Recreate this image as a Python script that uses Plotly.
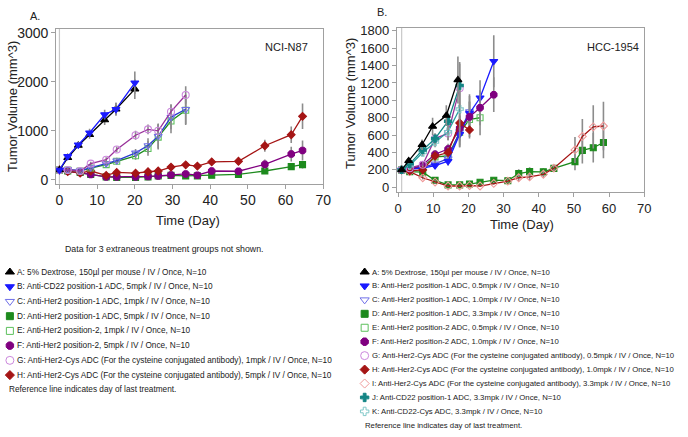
import plotly.graph_objects as go

W, H = 688, 437

# ---------------- Panel A: NCI-N87 ----------------
days_A_L = [0, 2.2, 5, 8, 12, 15, 20]
A_L = [200, 450, 700, 920, 1220, 1440, 1850]
A_L_err = [20, 40, 60, 80, 100, 130, 200]
B_L = [200, 480, 715, 960, 1330, 1440, 1980]
B_L_err = [20, 40, 60, 80, 100, 130, 230]

days_L = [0, 2.2, 5.5, 8.3, 12.4, 15.2, 20.2, 23.5, 26.2, 29.6, 33.5, 36.6, 40.4, 47.5, 54.5, 61.5, 64.5]
C_L = [200, 210, 190, 250, 330, 390, 550, 700, 890, 1280, 1440]
C_L_err = [20, 25, 25, 40, 50, 60, 80, 150, 250, 250, 300]
E_L = [200, 200, 180, 240, 310, 380, 490, 640, 870, 1200, 1420]
E_L_err = [20, 25, 25, 40, 50, 60, 80, 150, 250, 250, 300]
G_L = [200, 200, 180, 330, 410, 620, 910, 1030, 1000, 1390, 1730]
G_L_err = [20, 20, 25, 40, 50, 60, 90, 100, 150, 150, 180]
D_L = [200, 180, 150, 110, 60, 50, 50, 60, 80, 90, 80, 80, 95, 110, 180, 270, 310]
D_L_err = [20, 20, 20, 20, 15, 15, 15, 15, 15, 20, 20, 20, 25, 30, 50, 60, 80]
F_L = [200, 180, 150, 110, 60, 60, 60, 70, 80, 100, 120, 95, 180, 175, 315, 525, 600]
F_L_err = [20, 20, 20, 20, 15, 15, 15, 20, 20, 25, 30, 30, 40, 50, 100, 150, 200]
H_L = [200, 170, 140, 180, 90, 150, 135, 165, 180, 260, 305, 280, 365, 378, 695, 920, 1295]
H_L_err = [20, 20, 25, 30, 25, 30, 30, 35, 40, 50, 60, 60, 70, 70, 120, 170, 260]

# ---------------- Panel B: HCC-1954 ----------------
days_A_R = [1, 3, 6.8, 9.8, 13.7, 17]
A_R = [200, 305, 490, 700, 825, 1235]
A_R_err = [15, 30, 60, 100, 120, 270]
days_R = [1, 3.3, 7, 10.5, 14.2, 17.5, 20.3, 23.3, 27.2, 31.2, 34.3, 37.4, 41.3, 44.3, 50.3, 52.4, 55.5, 58.4]
B_R = [200, 210, 220, 250, 300, 610, 850, 1030, 1450]
B_R_err = [15, 20, 30, 40, 50, 150, 200, 200, 300]
C_R = [200, 210, 230, 270, 330, 640, 870]
C_R_err = [15, 20, 30, 40, 60, 180, 200]
D_R = [200, 180, 175, 80, 28, 28, 38, 58, 82, 76, 158, 180, 178, 218, 295, 425, 455, 515]
D_R_err = [15, 15, 20, 20, 10, 10, 15, 15, 20, 20, 50, 50, 40, 40, 100, 150, 170, 180]
E_R = [200, 210, 240, 350, 360, 630, 780, 800]
E_R_err = [15, 20, 30, 50, 60, 150, 200, 200]
F_R = [200, 200, 260, 380, 440, 680, 810, 915, 1065]
F_R_err = [15, 20, 30, 50, 60, 150, 180, 200, 200]
G_R = [200, 220, 260, 560, 620, 1140]
G_R_err = [15, 20, 30, 60, 80, 300]
H_R = [200, 190, 200, 360, 400, 740, 660]
H_R_err = [15, 20, 30, 50, 60, 150, 100]
I_R = [200, 180, 110, 60, 15, 15, 20, 15, 45, 72, 110, 120, 150, 220, 430, 585, 695, 705]
I_R_err = [15, 15, 20, 20, 10, 10, 10, 10, 15, 20, 40, 40, 40, 40, 150, 200, 250, 280]
J_R = [200, 270, 430, 560, 760, 1170]
J_R_err = [15, 25, 40, 60, 100, 250]
K_R = [200, 250, 400, 520, 640, 900]
K_R_err = [15, 25, 40, 60, 100, 250]

ref_day_L = 0
ref_day_R = 1

x_ticks = [0, 10, 20, 30, 40, 50, 60, 70]
y_ticks_L = [0, 1000, 2000, 3000]
y_ticks_R = [0, 200, 400, 600, 800, 1000, 1200, 1400, 1600, 1800]

legend_L = [
    "A: 5% Dextrose, 150µl per mouse / IV / Once, N=10",
    "B: Anti-CD22 position-1 ADC, 5mpk / IV / Once, N=10",
    "C: Anti-Her2 position-1 ADC, 1mpk / IV / Once, N=10",
    "D: Anti-Her2 position-1 ADC, 5mpk / IV / Once, N=10",
    "E: Anti-Her2 position-2, 1mpk / IV / Once, N=10",
    "F: Anti-Her2 position-2, 5mpk / IV / Once, N=10",
    "G: Anti-Her2-Cys ADC (For the cysteine conjugated antibody), 1mpk / IV / Once, N=10",
    "H: Anti-Her2-Cys ADC (For the cysteine conjugated antibody), 5mpk / IV / Once, N=10",
]
legend_R = [
    "A: 5% Dextrose, 150µl per mouse / IV / Once, N=10",
    "B: Anti-Her2 position-1 ADC, 0.5mpk / IV / Once, N=10",
    "C: Anti-Her2 position-1 ADC, 1.0mpk / IV / Once, N=10",
    "D: Anti-Her2 position-1 ADC, 3.3mpk / IV / Once, N=10",
    "E: Anti-Her2 position-2 ADC, 0.5mpk / IV / Once, N=10",
    "F: Anti-Her2 position-2 ADC, 1.0mpk / IV / Once, N=10",
    "G: Anti-Her2-Cys ADC (For the cysteine conjugated antibody), 0.5mpk / IV / Once, N=10",
    "H: Anti-Her2-Cys ADC (For the cysteine conjugated antibody), 1.0mpk / IV / Once, N=10",
    "I: Anti-Her2-Cys ADC (For the cysteine conjugated antibody), 3.3mpk / IV / Once, N=10",
    "J: Anti-CD22 position-1 ADC, 3.3mpk / IV / Once, N=10",
    "K: Anti-CD22-Cys ADC, 3.3mpk / IV / Once, N=10",
]

# styles: (line colour, marker symbol, marker colour, size)
STY = {
    "A": ("#000000", "triangle-up", "#000000", 7),
    "B": ("#1a1aff", "triangle-down", "#1a1aff", 7),
    "C": ("#2c3ccf", "triangle-down-open", "#6f6fe8", 7),
    "D": ("#1d8a1d", "square", "#1d8a1d", 6),
    "E": ("#1d8a1d", "square-open", "#5cc05c", 6),
    "F": ("#800080", "octagon", "#800080", 7),
    "G": ("#993399", "circle-open", "#cc88dd", 7),
    "H": ("#a51515", "diamond", "#a51515", 6),
    "I": ("#a51515", "diamond-open", "#f09a9a", 6),
    "J": ("#148585", "cross", "#148585", 6),
    "K": ("#2aa0a0", "cross-open", "#80c8c8", 6),
}

fig = go.Figure()


def add(key, xs, ys, err, xa, ya):
    lc, sym, mc, sz = STY[key]
    n = len(ys)
    fig.add_trace(go.Scatter(
        x=xs[:n], y=ys, xaxis=xa, yaxis=ya, mode="lines+markers",
        line=dict(color=lc, width=1.3),
        marker=dict(symbol=sym, size=sz, color=mc, line=dict(color=mc, width=1.1)),
        error_y=dict(type="data", array=err, color="#8c8c8c", thickness=1.6, width=0),
        showlegend=False, hoverinfo="skip"))


# left panel
add("D", days_L, D_L, D_L_err, "x", "y")
add("F", days_L, F_L, F_L_err, "x", "y")
add("H", days_L, H_L, H_L_err, "x", "y")
add("E", days_L, E_L, E_L_err, "x", "y")
add("C", days_L, C_L, C_L_err, "x", "y")
add("G", days_L, G_L, G_L_err, "x", "y")
add("A", days_A_L, A_L, A_L_err, "x", "y")
add("B", days_A_L, B_L, B_L_err, "x", "y")
# right panel
add("D", days_R, D_R, D_R_err, "x2", "y2")
add("I", days_R, I_R, I_R_err, "x2", "y2")
add("E", days_R, E_R, E_R_err, "x2", "y2")
add("C", days_R, C_R, C_R_err, "x2", "y2")
add("B", days_R, B_R, B_R_err, "x2", "y2")
add("F", days_R, F_R, F_R_err, "x2", "y2")
add("H", days_R, H_R, H_R_err, "x2", "y2")
add("G", days_R, G_R, G_R_err, "x2", "y2")
add("K", days_R, K_R, K_R_err, "x2", "y2")
add("J", days_R, J_R, J_R_err, "x2", "y2")
add("A", days_A_R, A_R, A_R_err, "x2", "y2")

annotations = []


def px(x):
    return x / W


def py(y):
    return 1 - y / H


def legend_block(labels, x_mark, x_text, y0, dy, note_x, fsize):
    font = dict(family="Liberation Sans, Arial", size=fsize, color="#1a1a1a")
    keys = [lab[0] for lab in labels]
    ys = [y0 + i * dy for i in range(len(labels))]
    for k, yy in zip(keys, ys):
        lc, sym, mc, sz = STY[k]
        fig.add_trace(go.Scatter(
            x=[x_mark], y=[yy], xaxis="x3", yaxis="y3", mode="markers",
            marker=dict(symbol=sym, size=sz + 1, color=mc, line=dict(color=mc, width=1.0)),
            showlegend=False, hoverinfo="skip"))
    for lab, yy in zip(labels, ys):
        annotations.append(dict(x=px(x_text), y=py(yy), xref="paper", yref="paper",
                                text=lab, showarrow=False, xanchor="left", yanchor="middle",
                                font=font))
    annotations.append(dict(x=px(note_x), y=py(y0 + len(labels) * dy), xref="paper", yref="paper",
                            text="Reference line indicates day of last treatment.", showarrow=False,
                            xanchor="left", yanchor="middle", font=font))


legend_block(legend_L, 8, 13, 273, 15.0, 5, 8.25)
legend_block(legend_R, 368, 373, 273, 14.2, 366, 7.75)

TF = dict(family="Liberation Sans, Arial", color="#222")
annotations += [
    dict(x=px(165), y=py(250), xref="paper", yref="paper", text="Data for 3 extraneous treatment groups not shown.",
         showarrow=False, xanchor="center", yanchor="middle", font=dict(TF, size=8.8)),
    dict(x=px(26), y=py(12), xref="paper", yref="paper", text="A.", showarrow=False,
         xanchor="left", yanchor="middle", font=dict(TF, size=11)),
    dict(x=px(379), y=py(8), xref="paper", yref="paper", text="B.", showarrow=False,
         xanchor="left", yanchor="middle", font=dict(TF, size=11)),
    dict(x=px(289), y=py(44), xref="paper", yref="paper", text="NCI-N87", showarrow=False,
         xanchor="center", yanchor="middle", font=dict(TF, size=11)),
    dict(x=px(620), y=py(44), xref="paper", yref="paper", text="HCC-1954", showarrow=False,
         xanchor="center", yanchor="middle", font=dict(TF, size=11)),
    dict(x=px(10), y=py(104), xref="paper", yref="paper", text="Tumor Volume (mm^3)", showarrow=False,
         textangle=-90, xanchor="center", yanchor="middle", font=dict(TF, size=13)),
    dict(x=px(353), y=py(101), xref="paper", yref="paper", text="Tumor Volume (mm^3)", showarrow=False,
         textangle=-90, xanchor="center", yanchor="middle", font=dict(TF, size=13)),
    dict(x=px(189), y=py(221), xref="paper", yref="paper", text="Time (Day)", showarrow=False,
         xanchor="center", yanchor="middle", font=dict(TF, size=13)),
    dict(x=px(528), y=py(225), xref="paper", yref="paper", text="Time (Day)", showarrow=False,
         xanchor="center", yanchor="middle", font=dict(TF, size=13)),
]

shapes = [
    dict(type="line", xref="x", yref="y domain", x0=ref_day_L, x1=ref_day_L, y0=0, y1=1,
         line=dict(color="#c8c8c8", width=1.2), layer="below"),
    dict(type="line", xref="x2", yref="y2 domain", x0=ref_day_R, x1=ref_day_R, y0=0, y1=1,
         line=dict(color="#c8c8c8", width=1.2), layer="below"),
]

ax_common = dict(showline=True, mirror=True, linecolor="#a0a0a0", linewidth=1, showgrid=False,
                 zeroline=False, ticks="outside", ticklen=4, tickcolor="#a0a0a0")

fig.update_layout(
    width=W, height=H, margin=dict(l=0, r=0, t=0, b=0),
    paper_bgcolor="white", plot_bgcolor="rgba(0,0,0,0)",
    font=dict(family="Liberation Sans, Arial", color="#222"),
    xaxis=dict(domain=[55 / W, 326 / W], range=[-0.86, 70], tickvals=x_ticks, anchor="y",
               tickfont=dict(size=14), **ax_common),
    yaxis=dict(domain=[1 - 183 / H, 1 - 25 / H], range=[-78, 3086], tickvals=y_ticks_L, anchor="x",
               tickfont=dict(size=14), **ax_common),
    xaxis2=dict(domain=[400.7 / W, 651.7 / W], range=[-0.36, 70], tickvals=x_ticks, anchor="y2",
                tickfont=dict(size=13), **ax_common),
    yaxis2=dict(domain=[1 - 191.7 / H, 1 - 24 / H], range=[-56, 1837], tickvals=y_ticks_R, anchor="x2",
                tickfont=dict(size=13), **ax_common),
    xaxis3=dict(domain=[0, 1], range=[0, W], visible=False, anchor="y3", fixedrange=True),
    yaxis3=dict(domain=[0, 1], range=[H, 0], visible=False, anchor="x3", fixedrange=True),
    annotations=annotations, shapes=shapes, showlegend=False,
)

fig.write_html("out.html", config={"displayModeBar": False},
               post_script="document.body.style.margin='0';document.body.style.padding='0';")
